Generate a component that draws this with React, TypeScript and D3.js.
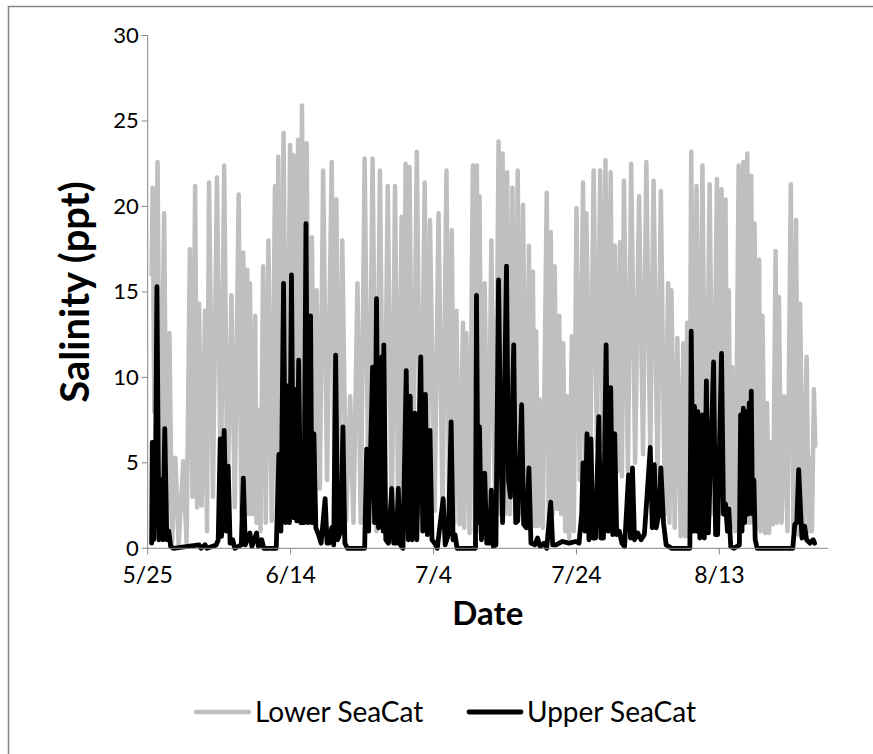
import React from "react";
import * as d3 from "d3";

// Days since 5/25
const lowerDays = [0.55,0.69,0.92,1.38,1.75,2.30,2.67,3.04,3.41,3.87,4.33,4.98,5.44,5.90,6.27,6.64,6.92,7.19,7.56,8.03,8.30,8.58,9.13,9.69,10.24,10.70,11.16,11.72,12.18,12.73,13.10,13.38,13.66,13.93,14.12,14.30,14.67,15.04,15.23,15.50,15.78,16.15,16.52,16.89,17.35,17.81,18.09,18.27,18.64,19.01,19.47,19.93,20.21,20.39,20.76,21.04,21.32,21.59,21.96,22.24,22.61,22.98,23.26,23.63,24.09,24.55,25.10,25.75,26.12,26.40,26.76,27.23,27.78,28.33,28.79,29.35,29.81,30.36,30.92,31.47,32.02,32.49,33.04,33.59,34.15,34.61,35.07,35.53,35.81,36.09,36.36,36.64,37.10,37.66,38.21,38.76,39.13,39.50,40.15,40.70,41.26,41.81,42.18,42.55,42.92,43.20,43.66,44.12,44.30,44.58,45.04,45.50,45.78,46.06,46.24,46.43,46.79,47.16,47.63,48.09,48.64,49.10,49.38,49.66,50.03,50.30,50.67,51.04,51.41,51.78,52.15,52.52,52.98,53.35,53.63,53.90,54.18,54.36,54.64,54.83,55.29,55.84,56.12,56.40,56.67,56.95,57.32,57.59,57.87,58.15,58.43,58.70,58.98,59.35,59.63,60.00,60.46,60.92,61.20,61.38,61.93,62.40,62.86,63.32,63.69,64.06,64.43,64.79,65.07,65.35,65.72,66.09,66.36,66.64,67.20,67.66,68.21,68.76,69.32,69.78,70.33,70.79,71.35,71.81,72.36,72.83,73.01,73.29,73.75,74.12,74.58,74.95,75.22,75.50,75.78,76.06,76.43,76.80,77.16,77.63,78.09,78.64,79.10,79.66,79.93,80.30,80.58,80.86,81.13,81.32,81.59,81.78,82.24,82.70,82.98,83.35,83.63,83.90,84.18,84.46,84.73,84.92,85.29,85.56,85.75,86.03,86.40,86.67,86.95,87.23,87.50,87.87,88.06,88.33,88.70,89.07,89.53,89.99,90.36,90.73,91.01,91.29,91.75,92.21,92.49,92.67,92.95,93.23,93.41];
const lowerSalinity = [16,21.1,8,22.6,2,19.6,1,12.6,0.3,5.3,0.2,5.1,0.3,17.5,3,21.2,2.4,14.3,2.5,13.9,1,21.4,3,21.7,3,22.4,2.5,14.8,2.4,20.7,2,17.3,2,16.3,2,15.5,2,13.6,1.5,8.1,1,16.5,1.5,18.0,1.6,21.2,2,22.9,2.5,24.3,2.5,23.6,3,23,3,23.9,3,25.9,3,23.7,3,18.2,3,15.1,3.5,22.1,4,22.6,4,20.4,3,18,1.6,8.9,1.5,15.5,1.5,22.8,1.5,22.8,1,22.1,1,21.2,1,21.2,1.5,19.4,2,22.5,2,22.3,2,23.2,2,21.4,2,19.2,2.2,19.6,2,22.1,2,18.6,1.5,13.9,1.4,13.2,1.2,12.6,0.9,22.4,1,22.4,1,20.6,0.9,15.5,0.9,18.0,1,23.8,2,23.1,2,22.0,2,21.1,2,22.1,2,20.1,1.5,17.7,1.5,16.2,1.3,12.7,1.3,8.7,1.2,20.8,1.5,18.5,2,16.5,2.3,13.6,2,12.0,1,8.9,0.6,12.4,1,19.9,4,21.4,5,19.6,5,22.1,6,22.1,6,22.7,6,22.0,5,17.7,4.5,17.9,4.2,21.5,4.5,22.5,5,20.6,5.5,22.6,5.5,21.5,4,20.9,2,15.5,1.5,15.1,1.2,12.3,0.7,12.0,0.7,13.2,0.7,23.2,2,21.2,2,22.4,2,21.3,2,21.6,2,21,2,20.4,1.5,15.1,1.2,10.6,1,22.4,1.5,22.6,1.5,23.1,1.5,21.8,1.5,19,1.2,16.9,1,13.6,0.9,8.5,0.9,6.2,1.4,17.4,1.5,14.7,1.5,8.9,1,21.3,1,19.2,0.8,14.3,0.8,11.2,1,5.3,1,9.3,6];

const upperDays = [0.55,0.64,0.83,1.10,1.29,1.56,1.84,2.12,2.39,2.67,2.95,3.22,3.59,7.19,7.47,8.03,8.30,9.59,9.87,10.15,10.33,10.70,10.98,11.26,11.53,11.90,12.18,13.10,13.38,13.66,14.30,14.58,15.23,15.50,15.96,16.24,17.99,18.36,18.64,19.01,19.29,19.56,19.84,20.12,20.39,20.58,20.86,21.13,21.41,21.69,21.87,22.15,22.43,22.79,22.98,23.26,23.53,23.90,24.27,24.83,25.10,25.38,25.75,26.03,26.30,26.58,27.04,27.32,27.59,27.96,30.36,30.64,30.92,31.47,31.75,32.02,32.30,32.76,32.95,33.04,33.32,33.69,34.15,34.42,34.79,35.07,35.35,35.72,36.18,36.46,36.73,37.01,37.38,37.66,38.21,38.49,38.86,39.13,39.50,39.78,40.15,40.52,41.35,41.63,42.09,42.46,42.73,43.01,43.29,45.87,46.01,46.24,46.43,46.70,47.16,47.44,47.81,48.09,48.36,48.73,49.10,49.38,49.66,50.21,50.49,50.76,51.22,51.50,51.78,52.33,52.61,52.98,53.35,53.63,54.18,54.55,54.92,55.47,55.84,56.40,56.67,57.13,58.06,58.98,59.90,60.36,60.73,60.92,61.20,61.47,61.75,62.03,62.30,62.67,63.13,63.41,63.78,64.15,64.43,64.79,65.07,65.35,65.63,66.00,66.36,66.73,67.29,67.56,67.84,68.12,68.58,69.04,69.50,69.87,70.33,70.61,70.89,71.16,71.53,71.81,72.18,72.55,73.29,75.87,76.06,76.33,76.52,76.80,76.98,77.26,77.63,77.90,78.18,78.46,79.19,79.47,79.75,80.30,80.58,80.86,81.13,81.32,81.59,82.06,82.80,82.98,83.17,83.35,83.53,83.81,84.00,84.18,84.36,84.46,84.64,84.83,85.01,85.29,90.27,90.55,90.83,91.10,91.38,91.56,91.93,92.21,92.67,93.13,93.32];
const upperSalinity = [0.3,6.2,0.5,5,15.3,0.5,4,0.5,7.0,0.5,1.0,0.1,0,0.2,0,0.2,0,0.2,0.5,6.4,0.7,6.9,1,4.8,0.3,0.5,0,0.2,4.1,0.2,0.9,0.1,0.9,0.1,0.5,0,0,5.5,1,15.5,1.5,9.5,1.5,16.0,1.8,9.3,1.6,11.0,1.5,5.5,1.5,19.0,1.5,13.6,1.5,6.7,1.2,0.8,0.3,2.9,0.3,0.3,1.2,0.2,11.3,0.5,1.0,7.1,0.3,0,0,5.8,1,10.6,1.5,14.6,1.2,11.2,1,11.9,0.5,0.3,3.5,0.3,0.3,3.5,0.2,0,10.4,0.5,8.9,0.5,7.9,0.5,11.2,1,9.0,0.8,6.9,0.5,0.3,0,2.9,0.2,0.8,7.4,0.5,0.8,0,0,14.8,1.5,7.1,0.5,4.4,0.3,0.3,3.4,0.1,0.2,15.7,6.5,1.5,16.5,4,3,11.9,1.5,1.6,8.4,1.4,1.2,4.7,0.3,0.2,0.6,0.1,0.3,0,2.7,0.2,0.2,0.4,0.3,0.4,0.3,2,5.0,1,6.7,0.5,6.4,0.6,0.6,7.7,0.6,0.6,11.9,1,9.4,0.8,6.7,0.8,1,0.3,0.1,4.3,0.6,4.7,0.5,0.9,0.5,0.8,3,5.9,1.2,4.9,1.2,2,4.7,1.5,0.2,0,0,12.7,1,8.3,1,8,0.6,7.8,0.6,9.8,0.9,10.9,0.8,0.8,11.4,2,2.6,1,2.3,0.1,0,0.2,7.8,1,8.2,1.5,8.0,2,8.5,3,9.2,2,4,0.5,0,0,1.4,1.5,4.6,2,0.6,1.3,0.5,0.3,0.5,0.3];

const tickDays = [0, 20, 40, 60, 80];
const tickLabels = ["5/25", "6/14", "7/4", "7/24", "8/13"];
const yTicks = [0, 5, 10, 15, 20, 25, 30];
const seriesNames = ["Lower SeaCat", "Upper SeaCat"];
const seriesColors = ["#bfbfbf", "#000000"];

const FONT = "Lato, 'Open Sans', sans-serif";

export default function App() {
  const x = d3.scaleLinear().domain([0, 95.2]).range([147.7, 828]);
  const y = d3.scaleLinear().domain([0, 30]).range([548.3, 35.5]);
  const line = d3
    .line<[number, number]>()
    .x((d) => x(d[0]))
    .y((d) => y(d[1]));
  const lowerPts = lowerDays.map((d, i) => [d, lowerSalinity[i]] as [number, number]);
  const upperPts = upperDays.map((d, i) => [d, upperSalinity[i]] as [number, number]);
  const axisColor = "#868686";
  const x0 = x(0);
  const y0 = y(0);
  return (
    <svg
      width={873}
      height={754}
      style={{ position: "absolute", left: 0, top: 0, background: "#fff" }}
      fontFamily={FONT}
    >
      <rect x={0} y={0} width={873} height={754} fill="#fff" />
      <path d="M8.5,760 L8.5,6.5 L880,6.5" fill="none" stroke={axisColor} strokeWidth={1.5} />
      <path d={line(lowerPts) || ""} fill="none" stroke={seriesColors[0]} strokeWidth={4.5} strokeLinejoin="round" strokeLinecap="round" />
      <path d={line(upperPts) || ""} fill="none" stroke={seriesColors[1]} strokeWidth={4.8} strokeLinejoin="round" strokeLinecap="round" />
      {/* axes */}
      <line x1={x0} x2={x0} y1={y(30)} y2={y0} stroke={axisColor} strokeWidth={1} />
      <line x1={x0} x2={x(95.2)} y1={y0} y2={y0} stroke={axisColor} strokeWidth={1} />
      {yTicks.map((t) => (
        <g key={t}>
          <line x1={x0 - 6} x2={x0} y1={y(t)} y2={y(t)} stroke={axisColor} />
          <text x={x0 - 9} y={y(t) - 1} textAnchor="end" dominantBaseline="central" fontSize={22} fill="#000">
            {t}
          </text>
        </g>
      ))}
      {tickDays.map((t, i) => (
        <g key={t}>
          <line x1={x(t)} x2={x(t)} y1={y0} y2={y0 + 6} stroke={axisColor} />
          <text x={x(t)} y={583} textAnchor="middle" fontSize={23} fill="#000">
            {tickLabels[i]}
          </text>
        </g>
      ))}
      <text x={(x0 + x(95.2)) / 2} y={625} textAnchor="middle" fontSize={33} fontWeight="bold">
        Date
      </text>
      <text transform={`translate(89,292) rotate(-90)`} textAnchor="middle" fontSize={40} fontWeight="bold">
        Salinity (ppt)
      </text>
      {/* legend */}
      <line x1={196} x2={249} y1={712} y2={712} stroke={seriesColors[0]} strokeWidth={4.5} strokeLinecap="round" />
      <text x={255} y={722} fontSize={28}>{seriesNames[0]}</text>
      <line x1={469} x2={521} y1={712} y2={712} stroke={seriesColors[1]} strokeWidth={4.8} strokeLinecap="round" />
      <text x={527} y={722} fontSize={28}>{seriesNames[1]}</text>
    </svg>
  );
}
